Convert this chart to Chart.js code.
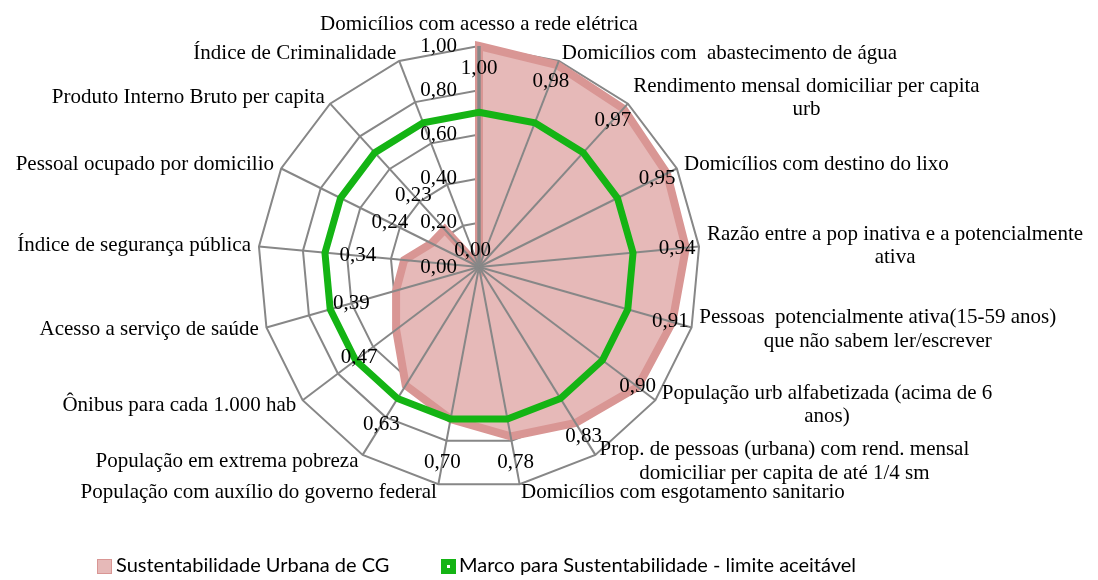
<!DOCTYPE html>
<html>
<head>
<meta charset="utf-8">
<script src="https://cdn.jsdelivr.net/npm/chart.js@4"></script>
<style>
  html, body { margin: 0; padding: 0; background: #fff; }
  #wrap { width: 1098px; height: 580px; }
</style>
</head>
<body>
<div id="wrap"><canvas id="radar" width="1098" height="580"></canvas></div>
<script>
// categorias (no sentido horário a partir do topo)
const categories = [
  "Domicílios com acesso a rede elétrica",
  "Domicílios com  abastecimento de água",
  ["Rendimento mensal domiciliar per capita", "urb"],
  "Domicílios com destino do lixo",
  ["Razão entre a pop inativa e a potencialmente", "ativa"],
  ["Pessoas  potencialmente ativa(15-59 anos)", "que não sabem ler/escrever"],
  ["População urb alfabetizada (acima de 6", "anos)"],
  ["Prop. de pessoas (urbana) com rend. mensal", "domiciliar per capita de até 1/4 sm"],
  "Domicílios com esgotamento sanitario",
  "População com auxílio do governo federal",
  "População em extrema pobreza",
  "Ônibus para cada 1.000 hab",
  "Acesso a serviço de saúde",
  "Índice de segurança pública",
  "Pessoal ocupado por domicilio",
  "Produto Interno Bruto per capita",
  "Índice de Criminalidade"
];
const sustentabilidade = [1.00, 0.98, 0.97, 0.95, 0.94, 0.91, 0.90, 0.83, 0.78, 0.70, 0.63, 0.47, 0.39, 0.34, 0.24, 0.23, 0.00];
const marco = [0.70, 0.70, 0.70, 0.70, 0.70, 0.70, 0.70, 0.70, 0.70, 0.70, 0.70, 0.70, 0.70, 0.70, 0.70, 0.70, 0.70];
const seriesNames = ["Sustentabilidade Urbana de CG", "Marco para Sustentabilidade - limite aceitável"];

const SERIF = '21px "Liberation Serif", "Times New Roman", serif';
const SANS = '20px Lato, "Open Sans", sans-serif';
const GRAY = '#878787';
const RED_FILL = '#E6B9B8';
const RED_LINE = '#D99694';
const GREEN = '#14B414';

const fmt = v => v.toFixed(2).replace('.', ',');

// linhas radiais por cima da área vermelha, rótulos e legenda
const radarExtras = {
  id: 'radarExtras',
  beforeDatasetDraw(chart, args) {
    if (args.index !== 1) return;
    const r = chart.scales.r;
    const ctx = chart.ctx;
    ctx.save();
    ctx.strokeStyle = GRAY;
    categories.forEach((c, i) => {
      const p = r.getPointPosition(i, r.drawingArea);
      ctx.lineWidth = i === 0 ? 3.5 : 2;
      ctx.beginPath();
      ctx.moveTo(r.xCenter, r.yCenter);
      ctx.lineTo(p.x, p.y);
      ctx.stroke();
    });
    ctx.restore();
  },
  afterDatasetsDraw(chart) {
    const r = chart.scales.r;
    const ctx = chart.ctx;
    ctx.save();
    ctx.font = SERIF;
    ctx.fillStyle = '#000';
    ctx.textBaseline = 'middle';

    // valores do eixo
    ctx.textAlign = 'right';
    r.ticks.forEach(t => {
      ctx.fillText(fmt(t.value), r.xCenter - 22, r.yCenter - r.getDistanceFromCenterForValue(t.value));
    });

    // rótulos de dados
    ctx.textAlign = 'center';
    sustentabilidade.forEach((v, i) => {
      const lr = v === 0 ? 0.08 : Math.min(v + 0.21, 0.9);
      const p = r.getPointPosition(i, r.getDistanceFromCenterForValue(lr));
      ctx.fillText(fmt(v), p.x, p.y);
    });

    // nomes das categorias
    const lh = 23.5;
    categories.forEach((c, i) => {
      const lines = [].concat(c);
      const ang = i * 360 / categories.length;
      const p = r.getPointPosition(i, r.drawingArea + 8);
      const w = Math.max(...lines.map(l => ctx.measureText(l).width));
      let left;
      if (ang === 0) left = p.x - w / 2;
      else if (ang < 180) left = p.x;
      else left = p.x - w;
      const top = ang === 0 ? p.y - 2 - lines.length * lh : p.y - lines.length * lh / 2;
      lines.forEach((l, k) => ctx.fillText(l, left + w / 2, top + lh * (k + 0.5)));
    });
    ctx.restore();
  },
  afterDraw(chart) {
    const ctx = chart.ctx;
    ctx.save();
    ctx.font = SANS;
    ctx.textBaseline = 'middle';
    ctx.textAlign = 'left';
    const y = 566;
    // item 1
    ctx.fillStyle = RED_FILL;
    ctx.fillRect(97, y - 7, 15, 15);
    ctx.strokeStyle = RED_LINE;
    ctx.lineWidth = 1;
    ctx.strokeRect(97.5, y - 6.5, 14, 14);
    ctx.fillStyle = '#000';
    ctx.fillText(seriesNames[0], 116, y);
    // item 2
    ctx.fillStyle = GREEN;
    ctx.fillRect(441, y - 7, 15, 15);
    ctx.fillStyle = '#fff';
    ctx.fillRect(447, y - 1, 3, 3);
    ctx.fillStyle = '#000';
    ctx.fillText(seriesNames[1], 459, y);
    ctx.restore();
  }
};

new Chart(document.getElementById('radar'), {
  type: 'radar',
  data: {
    labels: categories,
    datasets: [
      {
        label: seriesNames[0],
        data: sustentabilidade,
        backgroundColor: RED_FILL,
        borderColor: RED_LINE,
        borderWidth: 8,
        pointRadius: 0,
        fill: true,
        order: 1,
        clip: false
      },
      {
        label: seriesNames[1],
        data: marco,
        borderColor: GREEN,
        backgroundColor: 'transparent',
        borderWidth: 7,
        pointRadius: 0,
        fill: false,
        order: 0,
        clip: false
      }
    ]
  },
  options: {
    responsive: false,
    animation: false,
    devicePixelRatio: 1,
    layout: { padding: { left: 258, right: 398, top: 46, bottom: 92 } },
    plugins: {
      legend: { display: false },
      tooltip: { enabled: false }
    },
    scales: {
      r: {
        min: 0,
        max: 1,
        ticks: { display: false, stepSize: 0.2 },
        grid: { color: GRAY, lineWidth: 2, circular: false },
        angleLines: { display: false },
        pointLabels: { display: false }
      }
    }
  },
  plugins: [radarExtras]
});
</script>
</body>
</html>
